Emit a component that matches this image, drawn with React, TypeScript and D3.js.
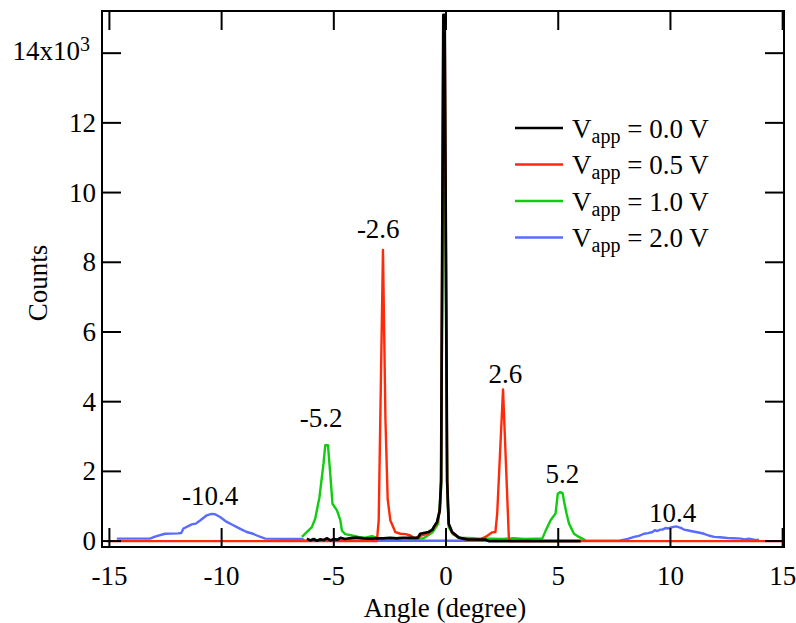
import * as d3 from "d3";

// angle (degree), counts
const trace0V: [number, number][] = [
  [-6.2, 70], [-6.05, 20], [-5.9, 60], [-5.75, 10], [-5.6, 50], [-5.45, 30], [-5.3, 80],
  [-5.15, 20], [-5.0, 60], [-4.85, 40], [-4.7, 90], [-4.5, 60], [-4.3, 80], [-4.0, 100],
  [-3.7, 80], [-3.4, 70], [-3.1, 80], [-2.8, 80], [-2.5, 90], [-2.2, 80], [-1.9, 90],
  [-1.5, 90], [-1.25, 90], [-1.15, 210], [-0.78, 260], [-0.6, 330], [-0.55, 400],
  [-0.4, 550], [-0.28, 880], [-0.22, 1740], [-0.12, 15100], [-0.06, 15100], [0.05, 1740],
  [0.12, 500], [0.27, 260], [0.57, 100], [0.94, 50], [1.76, 40], [1.9, 0], [6.0, 0],
];

const trace05V: [number, number][] = [
  [-15.1, 0], [-3.08, 0], [-3.0, 600], [-2.81, 8350], [-2.7, 3500], [-2.6, 1200],
  [-2.48, 590], [-2.26, 260], [-2.03, 210], [-1.8, 200], [-1.59, 160], [-1.4, 80],
  [-1.15, 150], [-0.78, 220], [-0.55, 380], [-0.4, 520], [-0.28, 850], [-0.22, 1700],
  [-0.12, 15000], [-0.06, 15000], [0.05, 1700], [0.12, 480], [0.27, 240], [0.57, 90],
  [0.94, 40], [1.5, 40], [1.76, 120], [2.06, 250], [2.2, 260], [2.28, 790], [2.54, 4350],
  [2.8, 80], [2.86, 0], [15.0, 0],
];

const trace1V: [number, number][] = [
  [-6.42, 120], [-5.98, 400], [-5.83, 640], [-5.64, 1260], [-5.46, 2220], [-5.38, 2750],
  [-5.26, 2750], [-5.16, 1940], [-5.06, 1070], [-4.86, 880], [-4.71, 600], [-4.64, 300],
  [-4.49, 200], [-4.19, 160], [-3.9, 120], [-3.6, 100], [-3.3, 140], [-3.0, 80],
  [-2.5, 80], [-2.0, 90], [-1.5, 60], [-1.0, 80], [-0.6, 250], [-0.35, 500],
  [-0.22, 1500], [-0.12, 12000], [-0.06, 12000], [0.05, 1500], [0.12, 400], [0.3, 200],
  [0.6, 100], [1.0, 90], [1.5, 70], [2.0, 70], [2.5, 60], [3.0, 80], [3.5, 60], [4.0, 70],
  [4.29, 70], [4.44, 300], [4.66, 600], [4.88, 790], [4.98, 1360], [5.07, 1400],
  [5.19, 1380], [5.28, 1070], [5.37, 790], [5.48, 500], [5.7, 210], [5.92, 120], [6.22, 20],
];

const trace2V: [number, number][] = [
  [-14.67, 70], [-13.19, 70], [-12.97, 130], [-12.52, 210], [-11.95, 220], [-11.8, 230],
  [-11.7, 360], [-11.33, 480], [-11.15, 500], [-10.96, 590], [-10.66, 740], [-10.45, 780],
  [-10.29, 770], [-10.07, 690], [-9.77, 550], [-9.5, 460], [-9.32, 400], [-9.1, 330],
  [-8.88, 260], [-8.6, 210], [-8.43, 160], [-8.06, 70], [-6.4, 60], [-6.3, 10], [7.7, 10],
  [7.78, 20], [8.1, 60], [8.38, 120], [8.6, 150], [8.82, 210], [9.0, 230], [9.2, 260],
  [9.3, 310], [9.42, 290], [9.55, 330], [9.64, 330], [9.8, 380], [9.87, 360], [10.09, 400],
  [10.25, 420], [10.46, 380], [10.6, 330], [10.76, 310], [10.9, 290], [11.13, 260],
  [11.3, 240], [11.5, 210], [11.7, 160], [11.95, 120], [12.2, 110], [12.54, 90],
  [12.8, 80], [13.14, 70], [13.3, 50], [13.5, 70], [13.73, 40], [13.95, 30],
];

const voltages = ["0.0", "0.5", "1.0", "2.0"];
const colors = ["#000000", "#ff2a0a", "#11cc11", "#5a6bff"];
const traces = [trace0V, trace05V, trace1V, trace2V];

const xTicks = [-15, -10, -5, 0, 5, 10, 15];
const yTicks = [0, 2000, 4000, 6000, 8000, 10000, 12000, 14000];

const peakLabels = [
  { text: "-2.6", x: -3.02, y: 8700 },
  { text: "2.6", x: 2.65, y: 4530 },
  { text: "-5.2", x: -5.57, y: 3280 },
  { text: "5.2", x: 5.18, y: 1660 },
  { text: "-10.4", x: -10.51, y: 1030 },
  { text: "10.4", x: 10.1, y: 550 },
];

const FONT = "'Liberation Serif', 'Times New Roman', serif";
const FS = 27;

export default function App() {
  const left = 102, right = 784, top = 11, bottom = 547;
  const x = d3.scaleLinear().domain([-15.33, 15.06]).range([left, right]);
  const y = d3.scaleLinear().domain([-170, 15210]).range([bottom, top]);
  const line = d3.line<[number, number]>().x(d => x(d[0])).y(d => y(d[1]));
  const tick = 19;

  // draw order: blue under, black on top
  const order = [3, 2, 1, 0];

  return (
    <svg width={796} height={623} style={{ position: "absolute", left: 0, top: 0, fontFamily: FONT }}>
      <rect width={796} height={623} fill="#fff" />
      <defs>
        <clipPath id="plot">
          <rect x={left} y={top} width={right - left} height={bottom - top} />
        </clipPath>
      </defs>

      <g clipPath="url(#plot)">
        {order.map(i => (
          <path key={i} d={line(traces[i]) ?? ""} fill="none" stroke={colors[i]}
            strokeWidth={i === 0 ? 2.7 : 2.4} strokeLinejoin="round" />
        ))}
      </g>

      {/* frame */}
      <rect x={left} y={top} width={right - left} height={bottom - top}
        fill="none" stroke="#000" strokeWidth={2} />

      {xTicks.map(t => (
        <g key={"x" + t}>
          <line x1={x(t)} x2={x(t)} y1={bottom} y2={bottom - tick} stroke="#000" strokeWidth={2} />
          <line x1={x(t)} x2={x(t)} y1={top} y2={top + tick} stroke="#000" strokeWidth={2} />
          <text x={x(t)} y={585} fontSize={FS} textAnchor="middle">{t}</text>
        </g>
      ))}

      {yTicks.map(t => (
        <g key={"y" + t}>
          <line x1={left} x2={left + tick} y1={y(t)} y2={y(t)} stroke="#000" strokeWidth={2} />
          <line x1={right} x2={right - tick} y1={y(t)} y2={y(t)} stroke="#000" strokeWidth={2} />
          {t < 14000 ? (
            <text x={96} y={y(t) + 9} fontSize={FS} textAnchor="end">{t / 1000}</text>
          ) : (
            <g>
              <text x={80} y={y(t) + 7} fontSize={FS} textAnchor="end">14x10</text>
              <text x={80} y={y(t) - 2} fontSize={20}>3</text>
            </g>
          )}
        </g>
      ))}

      <text x={445} y={617} fontSize={FS} textAnchor="middle">Angle (degree)</text>
      <text transform="translate(47,283) rotate(-90)" fontSize={FS} textAnchor="middle">Counts</text>

      {peakLabels.map(p => (
        <text key={p.text} x={x(p.x)} y={y(p.y)} fontSize={FS} textAnchor="middle">{p.text}</text>
      ))}

      {/* legend */}
      {voltages.map((v, i) => {
        const ly = 128 + i * 36.5;
        return (
          <g key={v}>
            <line x1={515} x2={563} y1={ly} y2={ly} stroke={colors[i]} strokeWidth={2.7} />
            <text x={572} y={ly + 9.5} fontSize={FS}>
              V<tspan fontSize={20} dy={5}>app</tspan>
              <tspan dy={-5}> = {v} V</tspan>
            </text>
          </g>
        );
      })}
    </svg>
  );
}
